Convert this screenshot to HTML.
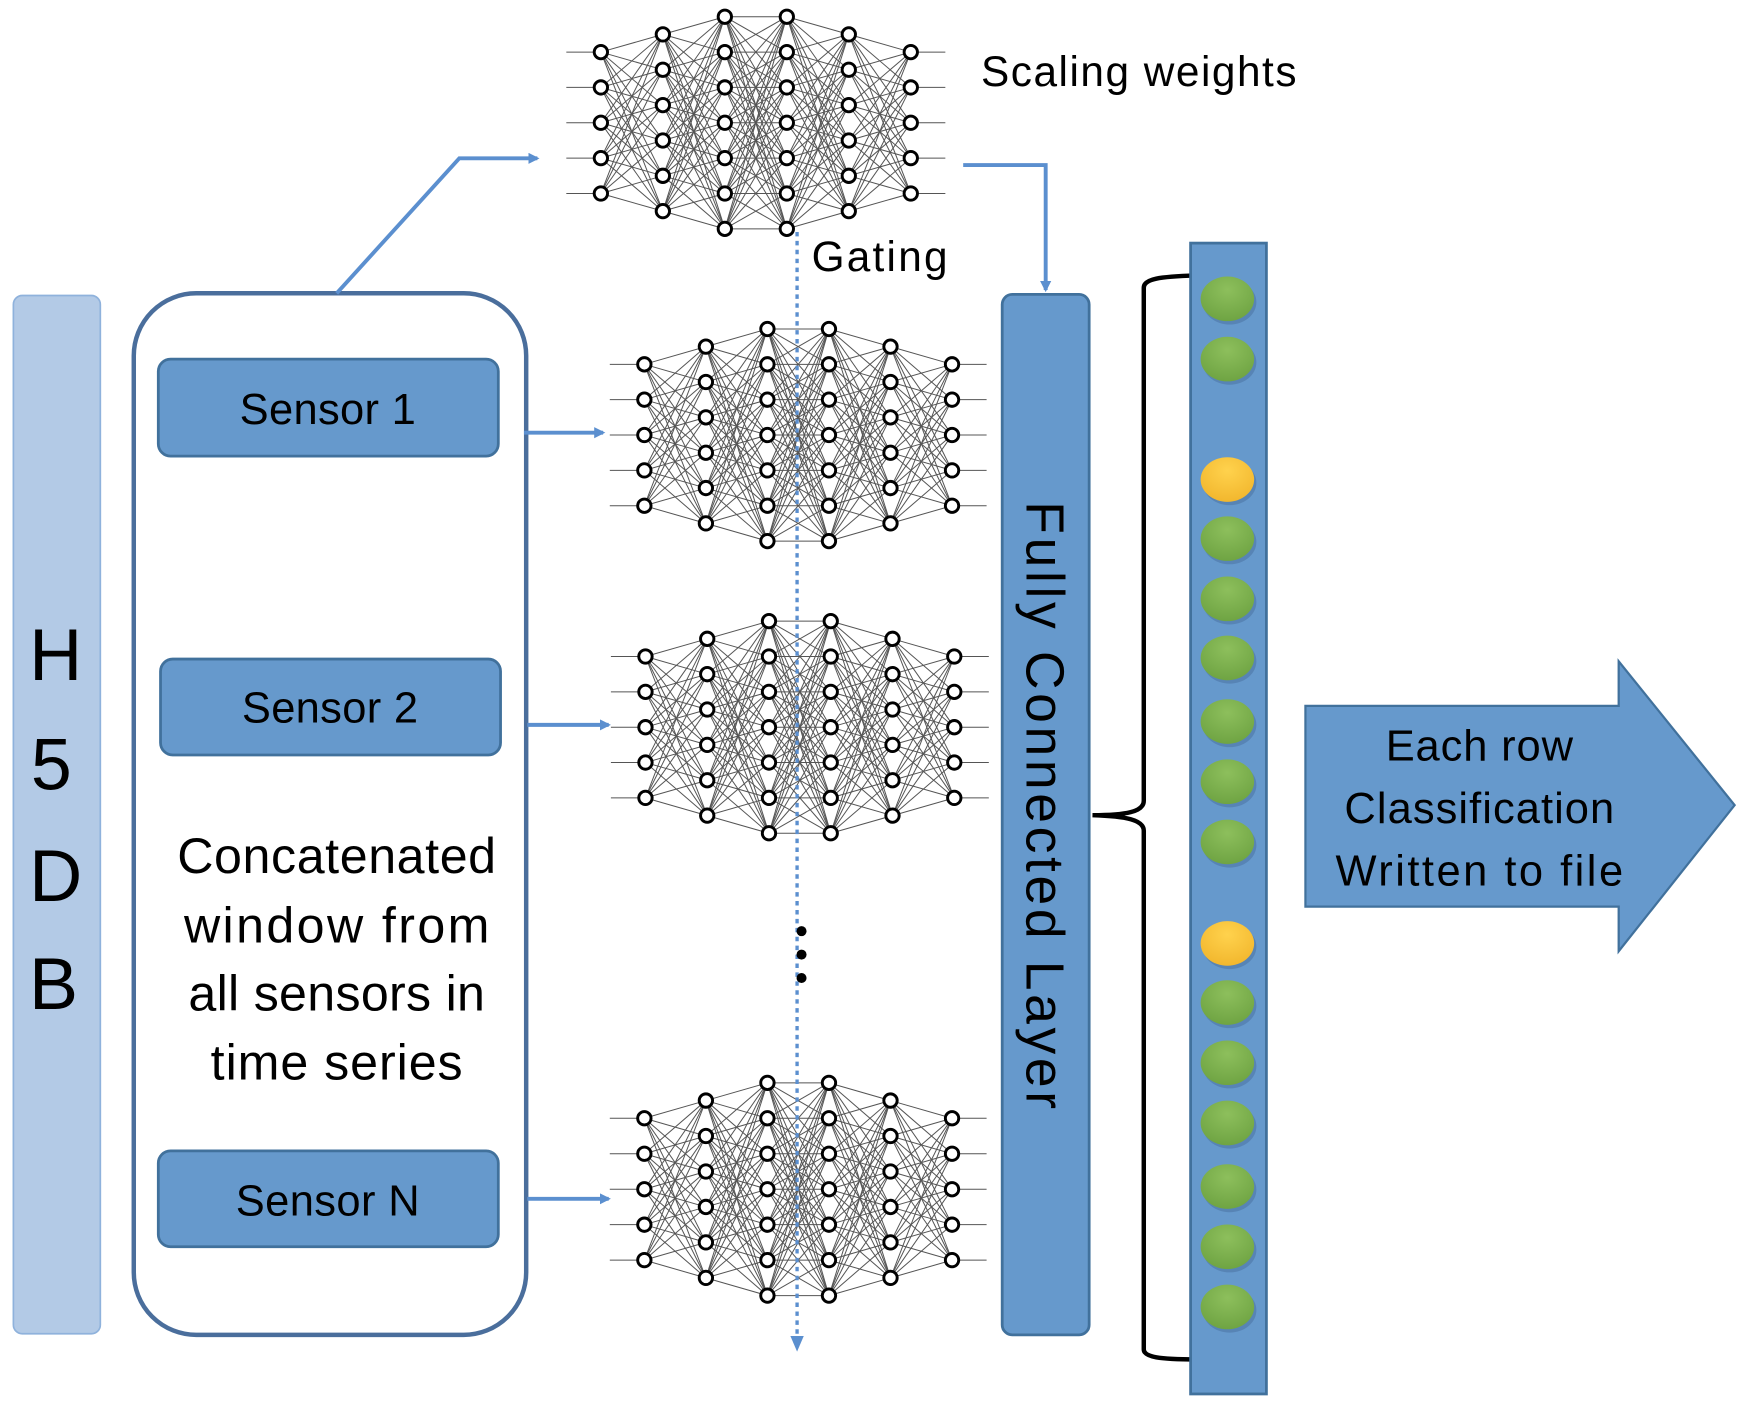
<!DOCTYPE html>
<html><head><meta charset="utf-8">
<style>html,body{margin:0;padding:0;background:#fff;}svg{display:block;}</style>
</head><body>
<svg id="s" width="1748" height="1404" viewBox="0 0 1568 1259" preserveAspectRatio="none" xmlns="http://www.w3.org/2000/svg" font-family="'Liberation Sans', 'DejaVu Sans', sans-serif">
<defs>
<radialGradient id="g" cx="50%" cy="30%" r="70%"><stop offset="0" stop-color="#8dbf5c"/><stop offset="1" stop-color="#6fa443"/></radialGradient>
<radialGradient id="y" cx="50%" cy="30%" r="70%"><stop offset="0" stop-color="#ffd24d"/><stop offset="1" stop-color="#f2b72e"/></radialGradient>
<marker id="ah" markerWidth="10" markerHeight="10" refX="8" refY="5" orient="auto" markerUnits="userSpaceOnUse"><path d="M0,0 L10,5 L0,10 Z" fill="#5b8fcf"/></marker>
</defs>
<rect x="12" y="265" width="78" height="931" rx="8" fill="#b3cae6" stroke="#8fb2dc" stroke-width="1.5"/>
<g font-size="66" text-anchor="middle" fill="#000"><text x="50" y="610">H</text><text x="46" y="708">5</text><text x="50" y="808">D</text><text x="48" y="905">B</text></g>
<rect x="120" y="263" width="352" height="934" rx="56" fill="#fff" stroke="#4a6e9c" stroke-width="4"/>
<g fill="#6699cc" stroke="#41719c" stroke-width="2.5">
<rect x="142" y="322" width="305" height="87" rx="11"/>
<rect x="144" y="591" width="305" height="86" rx="11"/>
<rect x="142" y="1032" width="305" height="86" rx="11"/>
</g>
<g font-size="39" text-anchor="middle" fill="#000"><text x="294" y="380" textLength="158">Sensor 1</text><text x="296" y="648" textLength="158">Sensor 2</text><text x="294" y="1090" textLength="165">Sensor N</text></g>
<g font-size="45" text-anchor="middle" fill="#000"><text x="302" y="783" textLength="286">Concatenated</text><text x="302" y="845" textLength="274">window from</text><text x="302" y="906" textLength="266">all sensors in</text><text x="302" y="968" textLength="226">time series</text></g>
<g id="nets"></g>
<g stroke="#5b8fcf" stroke-width="3.5" fill="none">
<line x1="470" y1="388" x2="541" y2="388" marker-end="url(#ah)"/>
<line x1="473" y1="650" x2="546" y2="650" marker-end="url(#ah)"/>
<line x1="473" y1="1075" x2="546" y2="1075" marker-end="url(#ah)"/>
<polyline points="302,263 412,142 482,142" marker-end="url(#ah)"/>
<polyline points="864,148 938,148 938,260" marker-end="url(#ah)"/>
<line x1="715" y1="208" x2="715" y2="1200" stroke-dasharray="4,4" stroke-width="3"/>
</g>
<path d="M709,1198 L715,1212 L721,1198 Z" fill="#5b8fcf"/>
<circle cx="719" cy="835" r="4.5"/><circle cx="719" cy="856" r="4.5"/><circle cx="719" cy="877" r="4.5"/>
<text x="728" y="243" font-size="38" textLength="122">Gating</text>
<text x="880" y="77" font-size="38" textLength="283">Scaling weights</text>
<rect x="899" y="264" width="78" height="933" rx="9" fill="#6699cc" stroke="#41719c" stroke-width="2.5"/>
<text x="0" y="0" font-size="48" text-anchor="middle" textLength="545" transform="translate(921,722) rotate(90)">Fully Connected Layer</text>
<path d="M1073,247 C1040,248 1026,250 1026,258 L1026,718 C1026,728 1010,731 980,731 C1010,732 1026,735 1026,745 L1026,1210 C1026,1217 1040,1219 1073,1219" fill="none" stroke="#000" stroke-width="4"/>
<rect x="1068" y="218" width="68" height="1032" fill="#6699cc" stroke="#41719c" stroke-width="2.5"/>
<g id="dots"></g>
<polygon points="1171,633 1452,633 1452,593 1556,722 1452,853 1452,813 1171,813" fill="#6699cc" stroke="#41719c" stroke-width="2"/>
<g font-size="39" text-anchor="middle" fill="#000"><text x="1327" y="682" textLength="168">Each row</text><text x="1327" y="738" textLength="242">Classification</text><text x="1327" y="794" textLength="258">Written to file</text></g>
</svg>
<script>
var NS="http://www.w3.org/2000/svg",nets=document.getElementById("nets");
function el(t,a,p){var e=document.createElementNS(NS,t);for(var k in a)e.setAttribute(k,a[k]);p.appendChild(e);return e;}
function net(x0,dx,yTop,sp){
 var counts=[5,6,7,7,6,5],cols=[];
 var cy=yTop+3*sp;
 for(var c=0;c<6;c++){var n=counts[c],ys=[];for(var i=0;i<n;i++)ys.push(cy-(n-1)/2*sp+i*sp);cols.push({x:x0+c*dx,ys:ys});}
 var g=el("g",{stroke:"#555","stroke-width":"0.9"},nets);
 for(c=0;c<5;c++)cols[c].ys.forEach(function(a){cols[c+1].ys.forEach(function(b){el("line",{x1:cols[c].x,y1:a,x2:cols[c+1].x,y2:b},g);});});
 cols[0].ys.forEach(function(a){el("line",{x1:x0-31,y1:a,x2:x0,y2:a},g);});
 cols[5].ys.forEach(function(a){el("line",{x1:cols[5].x,y1:a,x2:cols[5].x+31,y2:a},g);});
 cols.forEach(function(c){c.ys.forEach(function(y){el("circle",{cx:c.x,cy:y,r:6,fill:"#fff",stroke:"#000","stroke-width":"2.6"},nets);});});
}
net(539,55.6,15,31.7);
net(578,55.2,295,31.7);
net(579,55.4,557,31.7);
net(578,55.2,971,31.8);
var d=document.getElementById("dots");
[268,322,430,483,537,590,647,701,755,846,899,953,1007,1064,1118,1172].forEach(function(y){
 var yel=(y==430||y==846);
 el("ellipse",{cx:1103,cy:y+3,rx:24,ry:20,fill:"#3d5f8a",opacity:"0.35"},d);
 el("ellipse",{cx:1101,cy:y,rx:24,ry:20,fill:yel?"url(#y)":"url(#g)"},d);
});
</script>
</body></html>
